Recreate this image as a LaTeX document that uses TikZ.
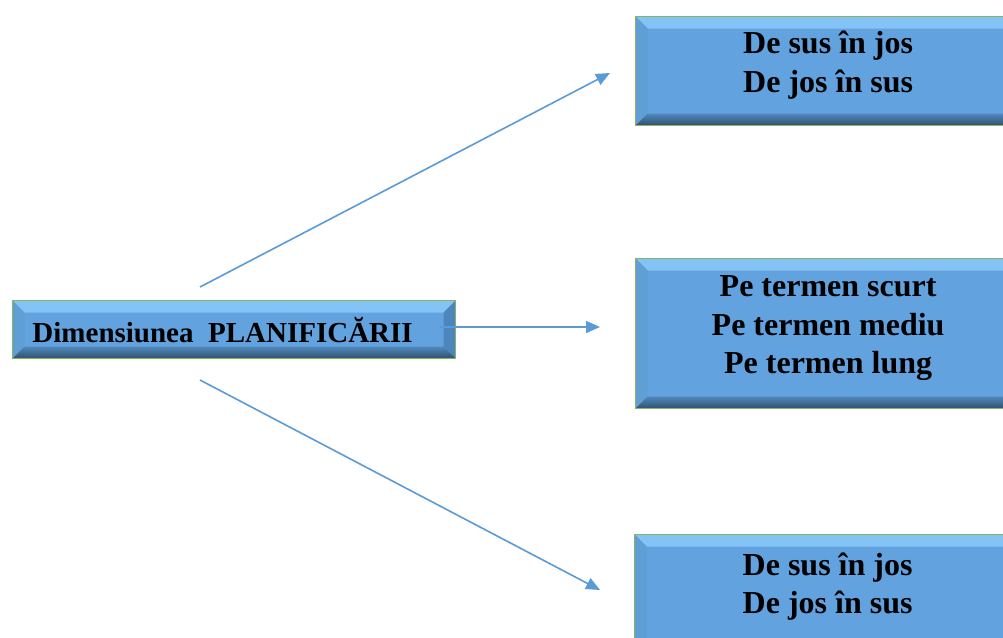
\documentclass[tikz,border=0pt]{standalone}
\usepackage{fontspec}
\setmainfont{Liberation Serif}
\usepackage{tikz}
\usetikzlibrary{arrows.meta, calc}
\definecolor{boxfill}{RGB}{98,163,223}
\definecolor{bevtop}{RGB}{132,195,246}
\definecolor{bevleft}{RGB}{96,158,214}
\definecolor{bevright}{RGB}{76,134,188}
\definecolor{bevbottom}{RGB}{80,136,188}
\definecolor{bevdeep}{RGB}{48,80,110}
\definecolor{boxedge}{RGB}{140,178,90}
\definecolor{arrowblue}{RGB}{91,155,213}
\newcommand{\bev}{12pt}
\newcommand{\planfont}{\bfseries\fontsize{32}{38.5}\selectfont}
\newcommand{\boxlines}[1]{\raisebox{6pt}[\dimexpr\height+6pt\relax][\dimexpr\depth+6pt\relax]{\begin{tabular}{@{}c@{}}#1\end{tabular}}}
\tikzset{
    planbox/.style={draw=boxedge, line width=1.2pt, fill=boxfill, inner sep=0pt,
        align=center, font=\planfont, text=black, anchor=north west,
        path picture={
            \coordinate (nw) at (path picture bounding box.north west);
            \coordinate (ne) at (path picture bounding box.north east);
            \coordinate (sw) at (path picture bounding box.south west);
            \coordinate (se) at (path picture bounding box.south east);
            \fill[bevtop] (nw) -- (ne) -- ($(ne)+(-\bev,-\bev)$) -- ($(nw)+(\bev,-\bev)$) -- cycle;
            \fill[bevleft] (nw) -- (sw) -- ($(sw)+(\bev,\bev)$) -- ($(nw)+(\bev,-\bev)$) -- cycle;
            \fill[bevright] (ne) -- (se) -- ($(se)+(-\bev,\bev)$) -- ($(ne)+(-\bev,-\bev)$) -- cycle;
            \shade[top color=bevbottom, bottom color=bevdeep] (sw) -- (se) -- ($(se)+(-\bev,\bev)$) -- ($(sw)+(\bev,\bev)$) -- cycle;
        }},
    planarrow/.style={draw=arrowblue, line width=1.6pt,
        -{Triangle[length=14pt, width=12pt]}}
}

\begin{document}
\begin{tikzpicture}[x=1pt, y=-1pt]
    \useasboundingbox (0,0) rectangle (1003,637);
    % boxes
    \node[planbox, minimum width=443, minimum height=58, font=\bfseries\fontsize{29}{34}\selectfont] (dim) at (12,300)
        {Dimensiunea\ \ PLANIFICĂRII\hspace{23pt}};
    \node[planbox, minimum width=385, minimum height=109] (top) at (635,16)
        {\boxlines{De sus în jos\\De jos în sus}};
    \node[planbox, minimum width=385, minimum height=150] (mid) at (635,258)
        {\boxlines{Pe termen scurt\\Pe termen mediu\\Pe termen lung}};
    \node[planbox, minimum width=386, minimum height=116] (low) at (634,534)
        {\boxlines{De sus în jos\\De jos în sus}};
    % arrow ends
    \coordinate (upstart) at (200,287);
    \coordinate (uptip) at (610,73);
    \coordinate (midstart) at (440,327);
    \coordinate (midtip) at (600,327);
    \coordinate (lowstart) at (200,380);
    \coordinate (lowtip) at (600,590);
    \draw[planarrow] (upstart) -- (uptip);
    \draw[planarrow] (midstart) -- (midtip);
    \draw[planarrow] (lowstart) -- (lowtip);
\end{tikzpicture}
\end{document}
